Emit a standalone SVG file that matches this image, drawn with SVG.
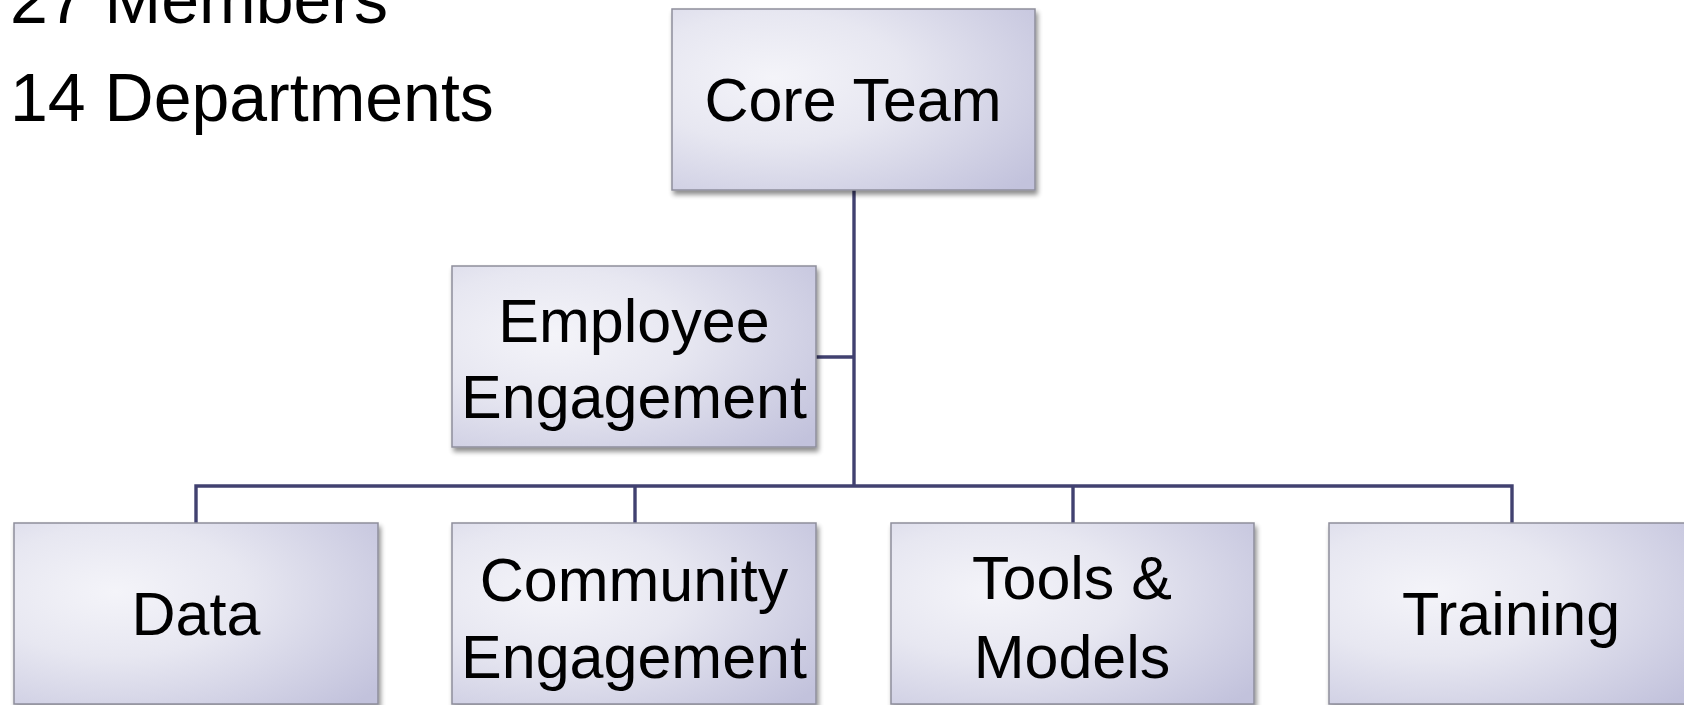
<svg xmlns="http://www.w3.org/2000/svg" width="1684" height="705" viewBox="0 0 1684 705">
  <defs>
    <radialGradient id="boxFill" cx="0.28" cy="0.38" r="0.9" fx="0.28" fy="0.38">
      <stop offset="0" stop-color="#f4f4f9"/>
      <stop offset="0.4" stop-color="#e7e7f1"/>
      <stop offset="1" stop-color="#c2c2dc"/>
    </radialGradient>
    <filter id="shadow" x="-10%" y="-10%" width="125%" height="130%">
      <feGaussianBlur in="SourceAlpha" stdDeviation="2.5"/>
      <feOffset dx="2" dy="4" result="blur"/>
      <feComponentTransfer><feFuncA type="linear" slope="0.45"/></feComponentTransfer>
      <feMerge><feMergeNode/><feMergeNode in="SourceGraphic"/></feMerge>
    </filter>
  </defs>
  <style>
    .box { fill: url(#boxFill); stroke: #8e8e9c; stroke-width: 1.5; filter: url(#shadow); }
    .label { font-family: "Liberation Sans", Arial, sans-serif; font-size: 61px; fill: #000; text-anchor: middle; }
    .head { font-family: "Liberation Sans", Arial, sans-serif; font-size: 68px; fill: #000; }
    .link { fill: none; stroke: #414170; stroke-width: 3.4; }
  </style>

  <rect width="1684" height="705" fill="#ffffff"/>

  <!-- headline figures -->
  <g id="summary">
    <text class="head" x="10" y="23">27 Members</text>
    <text class="head" x="10" y="121">14 Departments</text>
  </g>

  <!-- connectors -->
  <g id="connectors">
    <path class="link" d="M854 190 V486"/>
    <path class="link" d="M816 357 H854"/>
    <path class="link" d="M196 523 V486 H1512 V523"/>
    <path class="link" d="M635 486 V523"/>
    <path class="link" d="M1073 486 V523"/>
  </g>

  <!-- nodes -->
  <g id="core-team">
    <rect class="box" x="672" y="9" width="363" height="181"/>
    <text class="label" x="853" y="121">Core Team</text>
  </g>

  <g id="employee-engagement">
    <rect class="box" x="452" y="266" width="364" height="181"/>
    <text class="label" x="634" y="342">Employee</text>
    <text class="label" x="634" y="418">Engagement</text>
  </g>

  <g id="data">
    <rect class="box" x="14" y="523" width="364" height="181"/>
    <text class="label" x="196" y="635">Data</text>
  </g>

  <g id="community-engagement">
    <rect class="box" x="452" y="523" width="364" height="181"/>
    <text class="label" x="634" y="601">Community</text>
    <text class="label" x="634" y="678">Engagement</text>
  </g>

  <g id="tools-models">
    <rect class="box" x="891" y="523" width="363" height="181"/>
    <text class="label" x="1072" y="599">Tools &amp;</text>
    <text class="label" x="1072" y="678">Models</text>
  </g>

  <g id="training">
    <rect class="box" x="1329" y="523" width="364" height="181"/>
    <text class="label" x="1511" y="635">Training</text>
  </g>
</svg>
